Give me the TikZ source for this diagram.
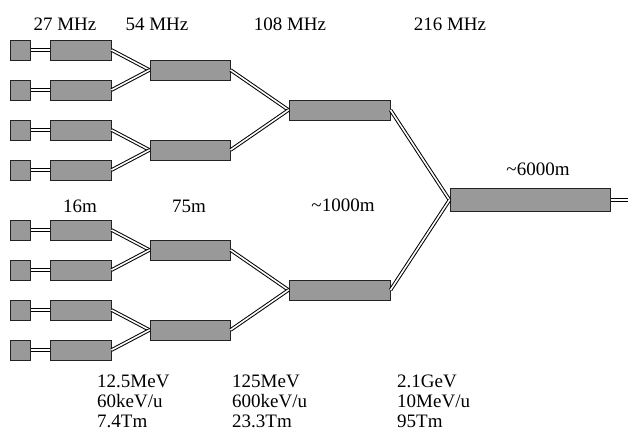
\documentclass[tikz,border=0pt]{standalone}
\usepackage{fontspec}
\setmainfont{Liberation Serif}
\usetikzlibrary{positioning}
\definecolor{CavityGray}{RGB}{153,153,153}
\definecolor{CavityEdge}{RGB}{35,35,35}

\begin{document}
\begin{tikzpicture}[%
      x=1pt, y=-1pt,
      node distance=19pt and 19pt,
      src/.style={rectangle, draw=CavityEdge, fill=CavityGray, line width=1pt, inner sep=0pt, minimum width=20pt, minimum height=20pt},
      cav/.style={rectangle, draw=CavityEdge, fill=CavityGray, line width=1pt, inner sep=0pt, minimum height=20pt},
      pipe/.style={draw=black, double=white, double distance=1.6pt, line width=1pt},
      lbl/.style={font=\fontsize{19}{20}\selectfont, inner sep=0pt, anchor=base},
      info/.style={font=\fontsize{19}{20}\selectfont, inner sep=0pt, align=left, anchor=north west}
    ]
      \useasboundingbox (0,0) rectangle (628,434);

      % Ion sources
      \node[src] (src1) at (20,50) {};
      \node[src] (src2) at (20,90) {};
      \node[src] (src3) at (20,130) {};
      \node[src] (src4) at (20,170) {};
      \node[src] (src5) at (20,230) {};
      \node[src] (src6) at (20,270) {};
      \node[src] (src7) at (20,310) {};
      \node[src] (src8) at (20,350) {};

      % 27 MHz linacs
      \node[cav, minimum width=61pt, right=of src1] (lin1) {};
      \node[cav, minimum width=61pt, right=of src2] (lin2) {};
      \node[cav, minimum width=61pt, right=of src3] (lin3) {};
      \node[cav, minimum width=61pt, right=of src4] (lin4) {};
      \node[cav, minimum width=61pt, right=of src5] (lin5) {};
      \node[cav, minimum width=61pt, right=of src6] (lin6) {};
      \node[cav, minimum width=61pt, right=of src7] (lin7) {};
      \node[cav, minimum width=61pt, right=of src8] (lin8) {};

      % 54 MHz, 108 MHz and 216 MHz linacs
      \node[cav, minimum width=80pt] (mid1) at (190,70) {};
      \node[cav, minimum width=80pt] (mid2) at (190,150) {};
      \node[cav, minimum width=80pt] (mid3) at (190,250) {};
      \node[cav, minimum width=80pt] (mid4) at (190,330) {};
      \node[cav, minimum width=101pt] (big1) at (339.5,110) {};
      \node[cav, minimum width=101pt] (big2) at (339.5,290) {};
      \node[cav, minimum width=160pt, minimum height=23pt] (main) at (530,200) {};
      \coordinate (exit) at (632,200);

      % Connections
      \draw[pipe] (src1.east) -- (lin1.west);
      \draw[pipe] (src2.east) -- (lin2.west);
      \draw[pipe] (src3.east) -- (lin3.west);
      \draw[pipe] (src4.east) -- (lin4.west);
      \draw[pipe] (src5.east) -- (lin5.west);
      \draw[pipe] (src6.east) -- (lin6.west);
      \draw[pipe] (src7.east) -- (lin7.west);
      \draw[pipe] (src8.east) -- (lin8.west);
      \draw[pipe] (lin1.east) -- (mid1.west);
      \draw[pipe] (lin2.east) -- (mid1.west);
      \draw[pipe] (lin3.east) -- (mid2.west);
      \draw[pipe] (lin4.east) -- (mid2.west);
      \draw[pipe] (lin5.east) -- (mid3.west);
      \draw[pipe] (lin6.east) -- (mid3.west);
      \draw[pipe] (lin7.east) -- (mid4.west);
      \draw[pipe] (lin8.east) -- (mid4.west);
      \draw[pipe] (mid1.east) -- (big1.west);
      \draw[pipe] (mid2.east) -- (big1.west);
      \draw[pipe] (mid3.east) -- (big2.west);
      \draw[pipe] (mid4.east) -- (big2.west);
      \draw[pipe] (big1.east) -- (main.west);
      \draw[pipe] (big2.east) -- (main.west);
      \draw[pipe] (main.east) -- (exit);

      % Labels
      \node[lbl] (f27) at (65,30) {27 MHz};
      \node[lbl] (f54) at (157,30) {54 MHz};
      \node[lbl] (f108) at (290,30) {108 MHz};
      \node[lbl] (f216) at (450,30) {216 MHz};
      \node[lbl] (len16) at (80,212) {16m};
      \node[lbl] (len75) at (189,212) {75m};
      \node[lbl] (len1000) at (343,211) {\textasciitilde1000m};
      \node[lbl] (len6000) at (538,175) {\textasciitilde6000m};
      \node[info] (beam1) at (97,375) {12.5MeV\\60keV/u\\7.4Tm};
      \node[info] (beam2) at (232,375) {125MeV\\600keV/u\\23.3Tm};
      \node[info] (beam3) at (397,375) {2.1GeV\\10MeV/u\\95Tm};
    \end{tikzpicture}
\end{document}
